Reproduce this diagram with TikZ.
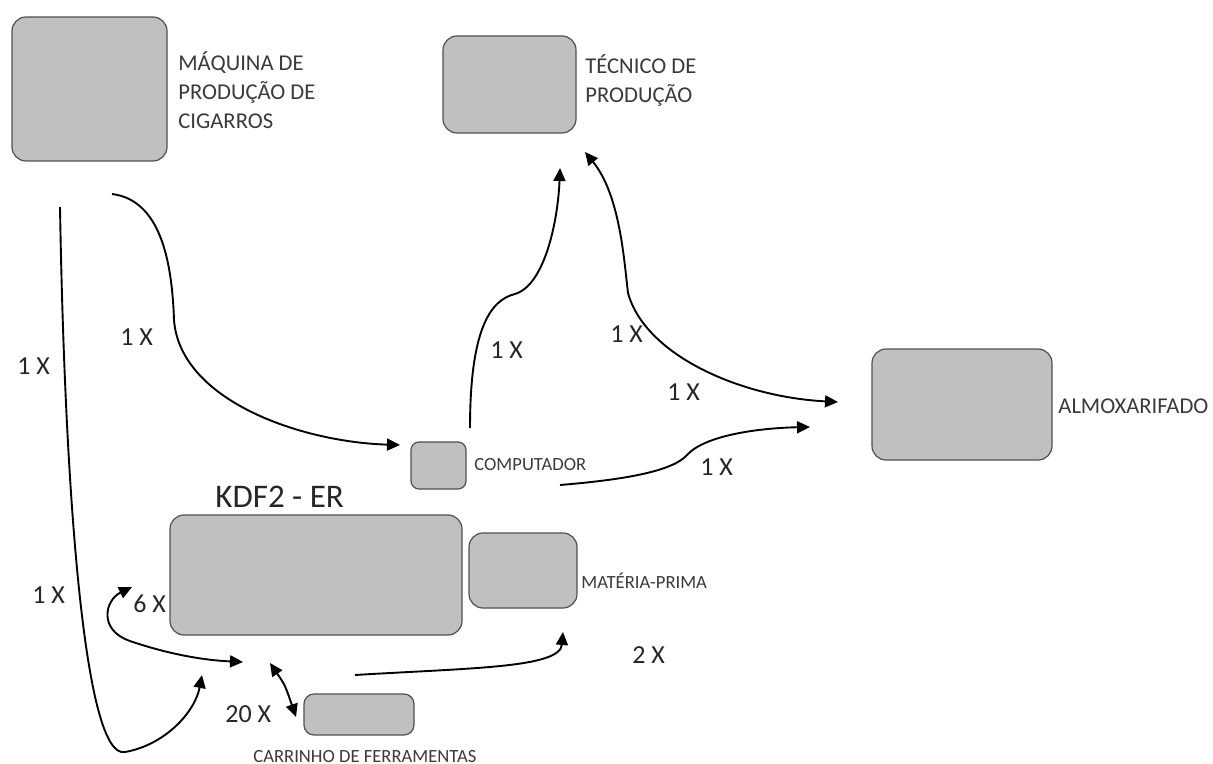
\documentclass[tikz,border=0pt]{standalone}
\usepackage{fontspec}
\setmainfont{Carlito}
\usetikzlibrary{arrows.meta}
\definecolor{boxfill}{HTML}{C0C0C0}
\definecolor{boxline}{HTML}{505050}
\definecolor{labeltext}{HTML}{3A3A3A}

\begin{document}
\begin{tikzpicture}[
  x=0.5pt, y=-0.5pt,
  box/.style={draw=boxline, fill=boxfill, line width=0.6pt, rounded corners=7pt, inner sep=0pt},
  lbl/.style={anchor=base west, inner sep=0pt, text=labeltext, align=left,
    font=\fontsize{11.3}{14.5}\selectfont},
  small/.style={lbl, font=\fontsize{9.3}{11}\selectfont},
  cnt/.style={anchor=base west, inner sep=0pt, text=black!85, font=\fontsize{13}{15}\selectfont},
  arr/.style={-{Triangle[length=6.5pt,width=6pt]}, line width=0.95pt},
  dbl/.style={{Triangle[length=6.5pt,width=6pt]}-{Triangle[length=6.5pt,width=6pt]}, line width=0.95pt}
]
\useasboundingbox (0,0) rectangle (1213,764);

% boxes
\node[box, minimum width=77.5pt, minimum height=72pt] (maquina) at (89.5,89) {};
\node[box, minimum width=66.5pt, minimum height=48.5pt] (tecnico) at (509.5,84.5) {};
\node[box, minimum width=90pt, minimum height=55.5pt] (almox) at (962,404.5) {};
\node[box, minimum width=27.5pt, minimum height=23.5pt, rounded corners=4pt] (comp) at (438.5,465.5) {};
\node[box, minimum width=146pt, minimum height=60pt] (kdf) at (316,575) {};
\node[box, minimum width=54pt, minimum height=37.5pt] (materia) at (523,570.5) {};
\node[box, minimum width=55pt, minimum height=20.5pt, rounded corners=5pt] (carrinho) at (359,714.5) {};

% labels
\node[lbl] (maquinaT) at (178,129) {MÁQUINA DE\\PRODUÇÃO DE\\CIGARROS};
\node[lbl] (tecnicoT) at (585,103) {TÉCNICO DE\\PRODUÇÃO};
\node[lbl] (almoxT) at (1058,413) {ALMOXARIFADO};
\node[small] (compT) at (474,470) {COMPUTADOR};
\node[small] (materiaT) at (581,588) {MATÉRIA-PRIMA};
\node[small] (carrinhoT) at (253,762) {CARRINHO DE FERRAMENTAS};
\node[lbl, text=black!85, font=\fontsize{16.5}{18}\selectfont] (kdfT) at (215,507) {KDF2 - ER};

% free ends of the arrows
\coordinate (a1) at (60,207);
\coordinate (a2) at (202,675);
\coordinate (b1) at (112,194);
\coordinate (b2) at (400,445);
\coordinate (c1) at (470,428);
\coordinate (c2) at (560,168);
\coordinate (d1) at (585,152);
\coordinate (d2) at (838,402);
\coordinate (e1) at (560,485);
\coordinate (e2) at (810,427);
\coordinate (f1) at (132,587);
\coordinate (f2) at (243,662);
\coordinate (g1) at (270,663);
\coordinate (g2) at (296,717);
\coordinate (h1) at (355,675);
\coordinate (h2) at (563,632);

% arrows
\draw[arr] (a1) .. controls (65,500) and (85,760) .. (125,752)
  .. controls (165,745) and (195,712) .. (a2);
\draw[arr] (b1) .. controls (160,200) and (172,260) .. (174,320)
  .. controls (180,400) and (300,442) .. (b2);
\draw[arr] (c1) .. controls (470,330) and (490,300) .. (515,294)
  .. controls (545,285) and (558,220) .. (c2);
\draw[dbl] (d1) .. controls (620,195) and (624,260) .. (628,293)
  .. controls (645,355) and (740,397) .. (d2);
\draw[arr] (e1) .. controls (620,480) and (672,472) .. (687,455)
  .. controls (705,435) and (760,428) .. (e2);
\draw[dbl] (f1) .. controls (105,600) and (98,630) .. (130,641)
  .. controls (165,653) and (200,660) .. (f2);
\draw[dbl] (g1) .. controls (285,685) .. (g2);
\draw[arr] (h1) .. controls (470,668) and (560,668) .. (h2);

% counts
\node[cnt] (nA) at (17,374) {1 X};
\node[cnt] (nA2) at (32,603) {1 X};
\node[cnt] (nB) at (120,345) {1 X};
\node[cnt] (nC) at (490,358) {1 X};
\node[cnt] (nD) at (610,342) {1 X};
\node[cnt] (nD2) at (667,400) {1 X};
\node[cnt] (nE) at (700,475) {1 X};
\node[cnt] (nF) at (133,612) {6 X};
\node[cnt] (nG) at (225,722) {20 X};
\node[cnt] (nH) at (632,663) {2 X};
\end{tikzpicture}
\end{document}
